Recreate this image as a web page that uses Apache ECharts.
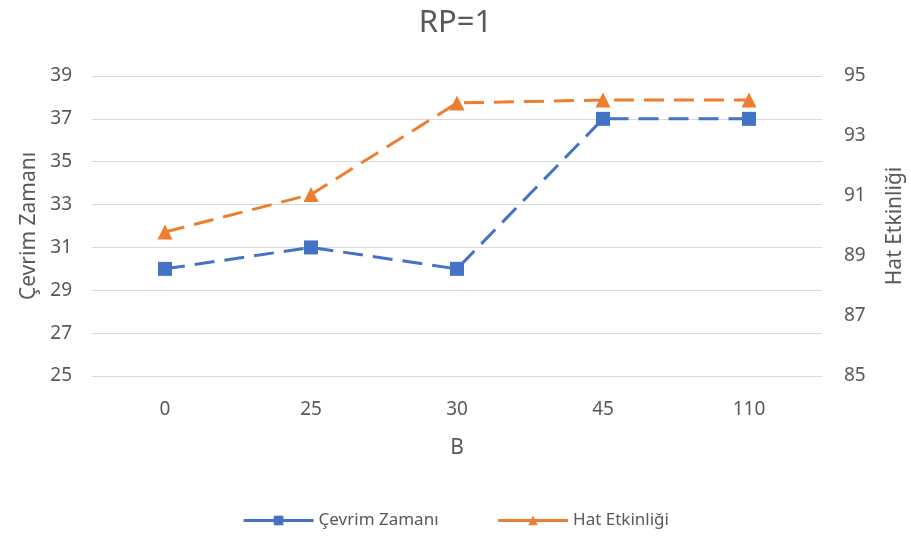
<!DOCTYPE html>
<html>
<head>
<meta charset="utf-8">
<script src="https://cdn.jsdelivr.net/npm/echarts@6/dist/echarts.min.js"></script>
<style>
  html, body { margin: 0; padding: 0; background: #fff; }
  #chart { width: 911px; height: 537px; }
</style>
</head>
<body>
<div id="chart"></div>
<script>
// B values along the category axis
const categories = ['0', '25', '30', '45', '110'];
// Cycle time (left axis)
const cevrimZamani = [30, 31, 30, 37, 37];
// Line efficiency (right axis)
const hatEtkinligi = [89.8, 91.05, 94.1, 94.2, 94.2];

const textColor = '#595959';
const font = 'Noto Sans, Open Sans, sans-serif';

const chart = echarts.init(document.getElementById('chart'));
chart.setOption({
  backgroundColor: '#ffffff',
  textStyle: { fontFamily: font },
  title: {
    text: 'RP=1',
    left: 'center',
    top: 3,
    textStyle: { color: textColor, fontSize: 31, fontWeight: 'normal', fontFamily: font }
  },
  grid: { left: 92, right: 89, top: 76, bottom: 161, containLabel: false, outerBoundsMode: 'none' },
  legend: {
    bottom: 3,
    left: 'center',
    itemWidth: 70,
    itemHeight: 12,
    itemGap: 58,
    textStyle: { color: textColor, fontSize: 17, fontFamily: font },
    lineStyle: { type: 'solid', width: 3 },
    data: ['Çevrim Zamanı', 'Hat Etkinliği']
  },
  xAxis: {
    type: 'category',
    data: categories,
    name: 'B',
    nameLocation: 'middle',
    nameGap: 62,
    nameTextStyle: { color: textColor, fontSize: 21 },
    axisLine: { show: false },
    axisTick: { show: false },
    axisLabel: { color: textColor, fontSize: 19, margin: 24 }
  },
  yAxis: [
    {
      type: 'value',
      min: 25, max: 39, interval: 2,
      name: 'Çevrim Zamanı',
      nameLocation: 'middle',
      nameGap: 46,
      nameTextStyle: { color: textColor, fontSize: 21 },
      axisLine: { show: false },
      axisTick: { show: false },
      axisLabel: { color: textColor, fontSize: 19, margin: 20 },
      splitLine: { lineStyle: { color: '#d9d9d9', width: 1 } }
    },
    {
      type: 'value',
      min: 85, max: 95, interval: 2,
      name: 'Hat Etkinliği',
      nameLocation: 'middle',
      nameGap: 63,
      nameRotate: 90,
      nameTextStyle: { color: textColor, fontSize: 21 },
      axisLine: { show: false },
      axisTick: { show: false },
      axisLabel: { color: textColor, fontSize: 19, margin: 22 },
      splitLine: { show: false }
    }
  ],
  series: [
    {
      name: 'Çevrim Zamanı',
      type: 'line',
      yAxisIndex: 0,
      data: cevrimZamani,
      symbol: 'rect',
      symbolSize: 14,
      color: '#4472C4',
      lineStyle: { width: 3, type: [20, 10] },
      itemStyle: { color: '#4472C4' },
      z: 2
    },
    {
      name: 'Hat Etkinliği',
      type: 'line',
      yAxisIndex: 1,
      data: hatEtkinligi,
      symbol: 'triangle',
      symbolSize: 15,
      color: '#ED7D31',
      lineStyle: { width: 3, type: [20, 10] },
      itemStyle: { color: '#ED7D31' },
      z: 3
    }
  ]
});
</script>
</body>
</html>
